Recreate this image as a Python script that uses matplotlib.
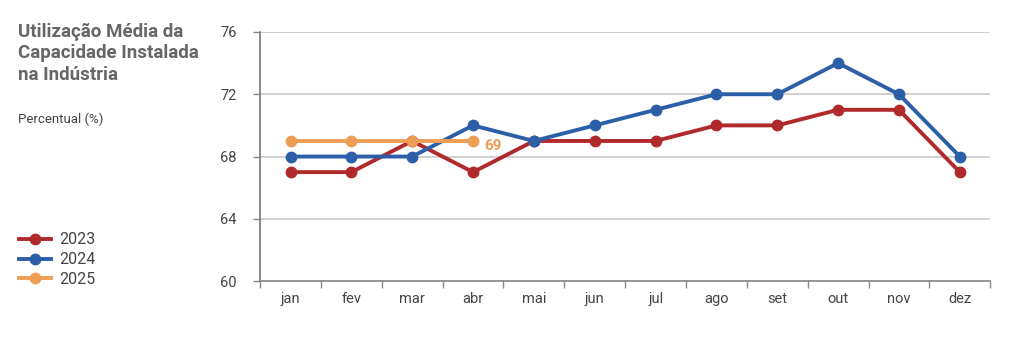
import numpy as np
import matplotlib
matplotlib.use("Agg")
import matplotlib.pyplot as plt
from matplotlib.lines import Line2D

plt.rcParams["font.family"] = ["Roboto", "DejaVu Sans"]

meses = ["jan", "fev", "mar", "abr", "mai", "jun", "jul", "ago", "set", "out", "nov", "dez"]
v2023 = [67, 67, 69, 67, 69, 69, 69, 70, 70, 71, 71, 67]
v2024 = [68, 68, 68, 70, 69, 70, 71, 72, 72, 74, 72, 68]
v2025 = [69, 69, 69, 69]
yticks = [60, 64, 68, 72, 76]

C23 = "#B0292B"
C24 = "#2C5FA8"
C25 = "#EE9D55"
GRAY = "#666666"

fig = plt.figure(figsize=(10.24, 3.51), dpi=100)
ax = fig.add_axes([0.254, 0.199, 0.713, 0.710])

x = np.arange(len(meses))
ax.plot(x, v2023, color=C23, lw=2.8, marker="o", ms=7.5, zorder=3)
ax.plot(x, v2024, color=C24, lw=2.8, marker="o", ms=7.5, zorder=4)
ax.plot(x[:len(v2025)], v2025, color=C25, lw=2.8, marker="o", ms=7.5, zorder=5)
ax.text(x[len(v2025) - 1] + 0.18, v2025[-1] - 0.3, str(v2025[-1]), color=C25,
        fontsize=11, fontweight="bold", va="center", ha="left")

ax.set_xlim(-0.5, len(meses) - 0.5)
ax.set_ylim(yticks[0], yticks[-1])
ax.set_yticks(yticks)
ax.set_xticks(x)
ax.set_xticklabels(meses)
ax.set_xticks(np.arange(-0.5, len(meses)), minor=True)
ax.tick_params(axis="x", which="major", length=0, pad=8, labelsize=10.5, labelcolor="#444444")
ax.tick_params(axis="x", which="minor", length=5, color="#888888", width=1)
ax.tick_params(axis="y", length=5, color="#888888", width=1, labelsize=10.5,
               labelcolor="#444444", pad=12)

ax.grid(axis="y", color="#C8C8C8", lw=1.2)
ax.set_axisbelow(True)
for s in ["top", "right"]:
    ax.spines[s].set_visible(False)
ax.spines["left"].set_color("#777777")
ax.spines["bottom"].set_color("#888888")
ax.spines["left"].set_linewidth(1.2)
ax.spines["bottom"].set_linewidth(1.2)

fig.text(0.018, 0.935, "Utilização Média da\nCapacidade Instalada\nna Indústria",
         fontsize=13.5, fontweight="bold", color=GRAY, va="top", ha="left", linespacing=1.25)
fig.text(0.018, 0.66, "Percentual (%)", fontsize=9.5, color="#444444", va="center", ha="left")

handles = [Line2D([0], [0], color=c, lw=2.8, marker="o", ms=7.5) for c in (C23, C24, C25)]
fig.legend(handles, ["2023", "2024", "2025"], loc="upper left", bbox_to_anchor=(0.008, 0.37),
           frameon=False, fontsize=11.5, labelcolor="#444444", handlelength=2.0,
           handletextpad=0.5, labelspacing=0.3, borderpad=0.2)

fig.savefig("out.png", dpi=100)
